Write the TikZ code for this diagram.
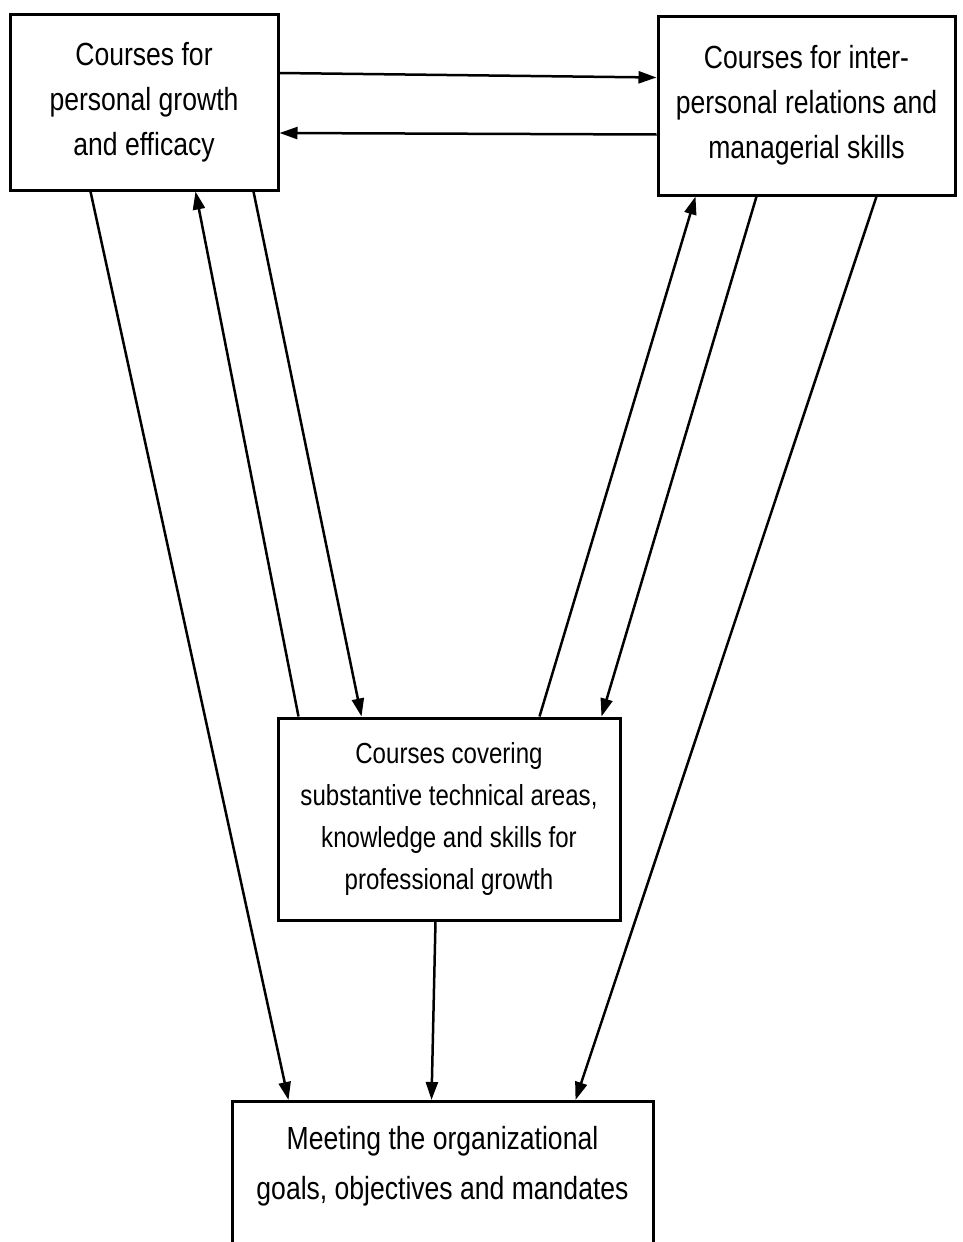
\documentclass[tikz,border=0pt]{standalone}
\usepackage{fontspec}
\setmainfont{Liberation Sans}[FakeStretch=0.83]
\usepackage{tikz}
\usetikzlibrary{arrows.meta}

\begin{document}
\begin{tikzpicture}[
  x=1pt, y=-1pt,
  box/.style={draw, line width=3pt, align=center, inner sep=0pt,
    font=\fontsize{32}{45}\selectfont},
  flow/.style={->, line width=2.5pt},
  >={Triangle[length=18pt, width=12pt]}
]
\fill[white] (0,0) rectangle (963,1242);
\clip (0,0) rectangle (963,1242);
\node[box, minimum width=268pt, minimum height=176pt] (pers) at (144,102)
  {Courses for\\personal growth\\and efficacy};
\node[box, minimum width=297pt, minimum height=179pt] (mgr) at (806.5,105.5)
  {Courses for inter-\\personal relations and\\managerial skills};
\node[box, minimum width=342pt, minimum height=202pt,
  font=\fontsize{29}{42}\selectfont] (tech) at (449,819)
  {Courses covering\\substantive technical areas,\\knowledge and skills for\\professional growth};
\node[box, minimum width=421pt, anchor=north, inner ysep=8pt,
  text height=90pt, text depth=170pt,
  font=\fontsize{32}{50}\selectfont] (goal) at (442.5,1100)
  {Meeting the organizational\\goals, objectives and mandates};
% links between the two top boxes
\draw[flow] ([yshift=29pt]pers.east) -- ([yshift=28pt]mgr.west);
\draw[flow] ([yshift=-29pt]mgr.west) -- ([yshift=-31pt]pers.east);
% links through the middle box
\draw[flow] ([xshift=22pt]tech.north west) -- ([xshift=187pt]pers.south west);
\draw[flow] ([xshift=245pt]pers.south west) -- ([xshift=85pt]tech.north west);
\draw[flow] ([xshift=263pt]tech.north west) -- ([xshift=39pt]mgr.south west);
\draw[flow] ([xshift=100pt]mgr.south west) -- ([xshift=325pt]tech.north west);
% links to the goals
\draw[flow] ([xshift=82pt]pers.south west) -- ([xshift=58pt]goal.north west);
\draw[flow] ([xshift=159pt]tech.south west) -- ([xshift=201pt]goal.north west);
\draw[flow] ([xshift=220pt]mgr.south west) -- ([xshift=345pt]goal.north west);
\end{tikzpicture}
\end{document}
